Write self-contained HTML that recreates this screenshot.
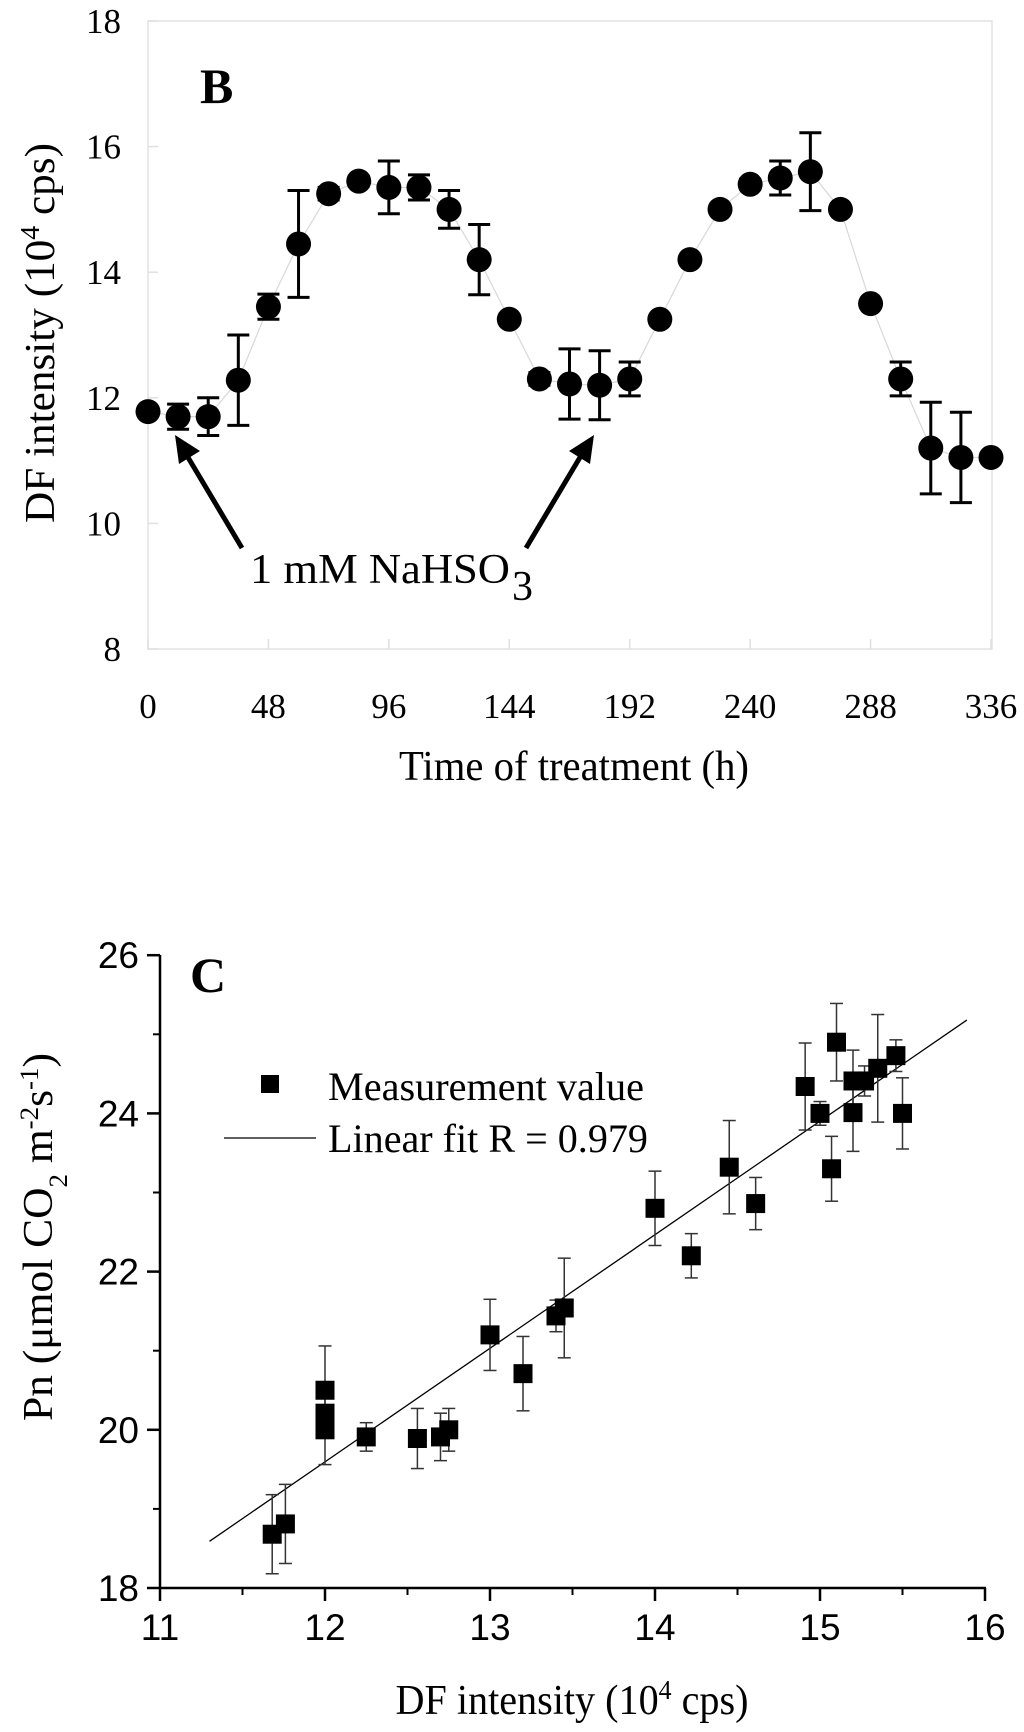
<!DOCTYPE html>
<html><head><meta charset="utf-8">
<style>
html,body{margin:0;padding:0;background:#fff;}
svg{display:block;}
.ser{font-family:"Liberation Serif",serif;}
.san{font-family:"Liberation Sans",sans-serif;}
</style></head>
<body>
<svg id="fig" width="1024" height="1732" viewBox="0 0 1024 1732" xmlns="http://www.w3.org/2000/svg">
  <g id="panelB">
    <rect x="148" y="21" width="844" height="628" fill="none" stroke="#e2e2e2" stroke-width="1.5"/>
    <text x="200" y="103" class="ser" font-size="50" font-weight="bold">B</text>
    <g id="bTicks"></g>
    <g id="bData"></g>
    <text class="ser" font-size="42" transform="translate(54,333) rotate(-90)" text-anchor="middle" textLength="380" lengthAdjust="spacingAndGlyphs">DF intensity (10<tspan baseline-shift="super" font-size="27">4</tspan> cps)</text>
    <text x="574" y="780" class="ser" font-size="42" text-anchor="middle" textLength="350" lengthAdjust="spacingAndGlyphs">Time of treatment (h)</text>
    <g>
      <line x1="242" y1="548" x2="186" y2="454" stroke="#000" stroke-width="5"/>
      <polygon points="175,435 200,451 179,464" fill="#000"/>
      <line x1="526" y1="548" x2="582" y2="454" stroke="#000" stroke-width="5"/>
      <polygon points="594,435 590,464 569,451" fill="#000"/>
      <text x="250" y="583" class="ser" font-size="42" textLength="260" lengthAdjust="spacingAndGlyphs">1 mM NaHSO</text>
      <text x="512" y="600" class="ser" font-size="42">3</text>
    </g>
  </g>
  <g id="panelC">
    <g id="cAxes"></g>
    <text x="190" y="992" class="ser" font-size="50" font-weight="bold">C</text>
    <g id="cData"></g>
    <g>
      <rect x="261" y="1075" width="18" height="18" fill="#000"/>
      <text x="328" y="1100" class="ser" font-size="40" textLength="316" lengthAdjust="spacingAndGlyphs">Measurement value</text>
      <line x1="224" y1="1138" x2="316" y2="1138" stroke="#000" stroke-width="1.2"/>
      <text x="328" y="1152" class="ser" font-size="40" textLength="320" lengthAdjust="spacingAndGlyphs">Linear fit R = 0.979</text>
    </g>
    <text class="ser" font-size="42" transform="translate(52,1237) rotate(-90)" text-anchor="middle" textLength="368" lengthAdjust="spacingAndGlyphs">Pn (μmol CO<tspan baseline-shift="sub" font-size="26">2</tspan> m<tspan baseline-shift="super" font-size="26">-2</tspan>s<tspan baseline-shift="super" font-size="26">-1</tspan>)</text>
    <text x="572" y="1714" class="ser" font-size="42" text-anchor="middle" textLength="353" lengthAdjust="spacingAndGlyphs">DF intensity (10<tspan baseline-shift="super" font-size="27">4</tspan> cps)</text>
  </g>
</svg>
<script>
// ---------- Panel B data ----------
const bTimes = [0,12,24,36,48,60,72,84,96,108,120,132,144,156,168,180,192,204,216,228,240,252,264,276,288,300,312,324,336];
const bValues = [11.78,11.7,11.7,12.28,13.45,14.45,15.25,15.45,15.35,15.35,15.0,14.2,13.25,12.3,12.22,12.2,12.3,13.25,14.2,15.0,15.4,15.5,15.6,15.0,13.5,12.3,11.2,11.05,11.05];
const bErrors = [0.04,0.2,0.3,0.72,0.2,0.85,0.1,0.08,0.42,0.2,0.3,0.56,0.04,0.1,0.56,0.55,0.27,0.04,0.04,0.04,0.08,0.27,0.62,0.04,0.04,0.27,0.73,0.72,0.04];
const bXTicks = [0,48,96,144,192,240,288,336];
const bYTicks = [8,10,12,14,16,18];

// ---------- Panel C data ----------
const cDF = [11.68,11.76,12.0,12.0,12.0,12.25,12.56,12.70,12.75,13.0,13.2,13.4,13.45,14.0,14.22,14.45,14.61,14.91,15.0,15.07,15.1,15.2,15.2,15.27,15.35,15.46,15.5];
const cPn = [18.68,18.81,20.5,20.21,20.0,19.91,19.89,19.91,20.0,21.2,20.71,21.44,21.54,22.8,22.2,23.32,22.86,24.34,24.0,23.3,24.9,24.41,24.01,24.41,24.57,24.73,24.0];
const cErr = [0.5,0.5,0.56,0.1,0.44,0.18,0.38,0.3,0.27,0.45,0.47,0.2,0.63,0.47,0.28,0.59,0.33,0.55,0.15,0.41,0.49,0.39,0.49,0.19,0.68,0.2,0.45];
const cFit = [[11.3,18.59],[15.89,25.18]];
const cXTicks = [11,12,13,14,15,16];
const cYTicks = [18,20,22,24,26];

const NS = "http://www.w3.org/2000/svg";
function mk(tag, attrs, parent){
  const e = document.createElementNS(NS, tag);
  for (const k in attrs) e.setAttribute(k, attrs[k]);
  parent.appendChild(e);
  return e;
}
// axis functions
const bx = t => 148 + (t/336)*843;
const by = v => 649 - (v-8)*62.8;
const cx = v => 160 + (v-11)*165;
const cy = v => 1588 - (v-18)*79.1;

// Panel B ticks
const bT = document.getElementById('bTicks');
bXTicks.forEach(t=>{
  const l = mk('line',{x1:bx(t),x2:bx(t),y1:649,y2:639,stroke:'#e0e0e0','stroke-width':1.5},bT);
  
  
  const tx = mk('text',{x:bx(t),y:718,'text-anchor':'middle','font-size':35,'class':'ser'},bT);
  tx.textContent = t;
  
  
});
bYTicks.forEach(v=>{
  const l = mk('line',{x1:148,x2:158,y1:by(v),y2:by(v),stroke:'#e0e0e0','stroke-width':1.5},bT);
  
  
  const tx = mk('text',{x:121,y:by(v)+12,'text-anchor':'end','font-size':35,'class':'ser'},bT);
  tx.textContent = v;
  
  
});
// Panel B series
const bD = document.getElementById('bData');
const pl = mk('polyline',{points:bTimes.map((t,i)=>bx(t)+','+by(bValues[i])).join(' '),fill:'none',stroke:'#d8d8d8','stroke-width':1.2},bD);


bTimes.forEach((t,i)=>{
  const x = bx(t), y1 = by(bValues[i]+bErrors[i]), y2 = by(bValues[i]-bErrors[i]);
  const g = mk('g',{stroke:'#000','stroke-width':3},bD);
  
  
  mk('line',{x1:x,x2:x,y1:y1,y2:y2},g);
  mk('line',{x1:x-11,x2:x+11,y1:y1,y2:y1},g);
  mk('line',{x1:x-11,x2:x+11,y1:y2,y2:y2},g);
  const c = mk('circle',{cx:x,cy:by(bValues[i]),r:12.5,fill:'#000'},bD);
  
  
});

// Panel C axes
const cA = document.getElementById('cAxes');
const ax1 = mk('line',{x1:160,x2:160,y1:955,y2:1589,stroke:'#000','stroke-width':2.5},cA);


const ax2 = mk('line',{x1:159,x2:986,y1:1588,y2:1588,stroke:'#000','stroke-width':2.5},cA);


cXTicks.forEach(v=>{
  const l = mk('line',{x1:cx(v),x2:cx(v),y1:1588,y2:1601,stroke:'#000','stroke-width':2.5},cA);
  
  
  if (v<16){
    const m = mk('line',{x1:cx(v+0.5),x2:cx(v+0.5),y1:1588,y2:1595,stroke:'#000','stroke-width':2},cA);
    
    
  }
  const tx = mk('text',{x:cx(v),y:1640,'text-anchor':'middle','font-size':37,'class':'san'},cA);
  tx.textContent = v;
  
  
});
cYTicks.forEach(v=>{
  const l = mk('line',{x1:147,x2:160,y1:cy(v),y2:cy(v),stroke:'#000','stroke-width':2.5},cA);
  
  
  if (v<26){
    const m = mk('line',{x1:153,x2:160,y1:cy(v+1),y2:cy(v+1),stroke:'#000','stroke-width':2},cA);
    
    
  }
  const tx = mk('text',{x:139,y:cy(v)+13,'text-anchor':'end','font-size':37,'class':'san'},cA);
  tx.textContent = v;
  
  
});
// Panel C series
const cD = document.getElementById('cData');
const fit = mk('line',{x1:cx(cFit[0][0]),y1:cy(cFit[0][1]),x2:cx(cFit[1][0]),y2:cy(cFit[1][1]),stroke:'#000','stroke-width':1.3},cD);


cDF.forEach((d,i)=>{
  const x = cx(d), y1 = cy(cPn[i]+cErr[i]), y2 = cy(cPn[i]-cErr[i]);
  const g = mk('g',{stroke:'#333','stroke-width':1.5},cD);
  
  
  mk('line',{x1:x,x2:x,y1:y1,y2:y2},g);
  mk('line',{x1:x-6.5,x2:x+6.5,y1:y1,y2:y1},g);
  mk('line',{x1:x-6.5,x2:x+6.5,y1:y2,y2:y2},g);
});
cDF.forEach((d,i)=>{
  const s = mk('rect',{x:cx(d)-9.5,y:cy(cPn[i])-9.5,width:19,height:19,fill:'#000'},cD);
  
  
});
</script>
</body></html>
